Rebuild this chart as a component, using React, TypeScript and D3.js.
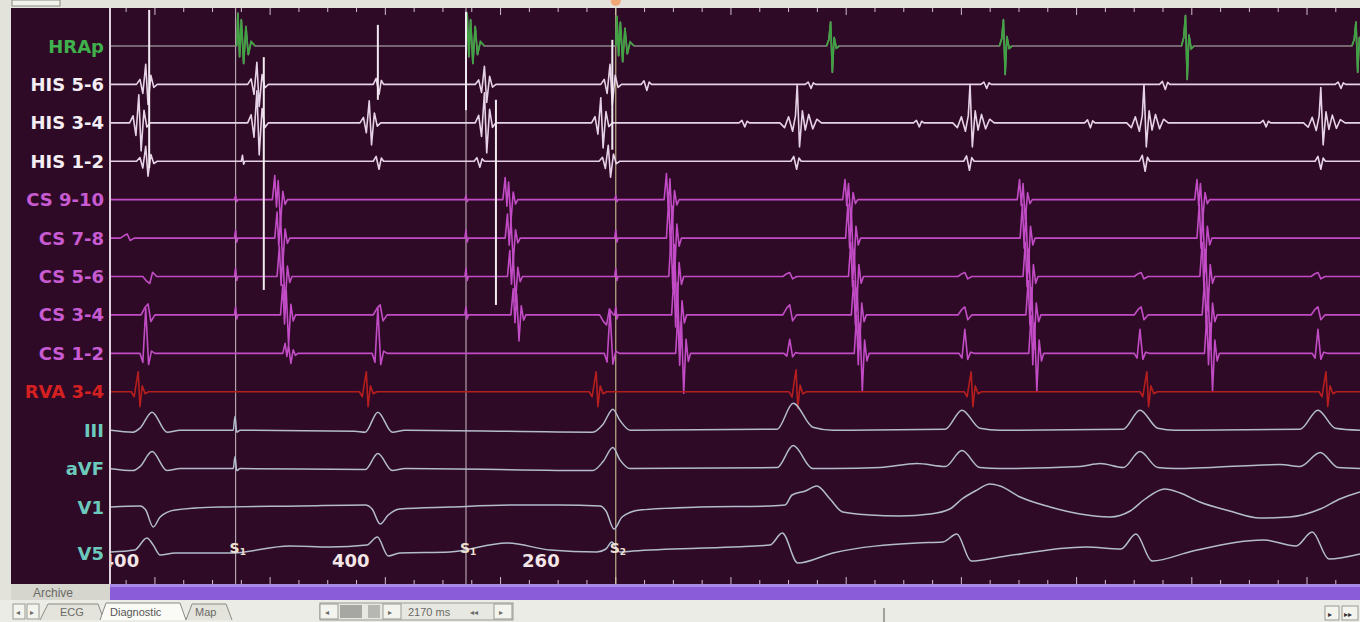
import React, { useMemo } from "react";
import * as d3 from "d3";

const W = 1360;
const H = 622;
const SWEEP_MS = 2170;

// ---------- channels ----------
const channelNames = ["HRAp", "HIS 5-6", "HIS 3-4", "HIS 1-2", "CS 9-10", "CS 7-8", "CS 5-6", "CS 3-4", "CS 1-2", "RVA 3-4", "III", "aVF", "V1", "V5"];
const channelGroups = ["hra", "his", "his", "his", "cs", "cs", "cs", "cs", "cs", "rva", "ecg", "ecg", "ecg", "ecg"];

// ---------- waveform templates: [dt ms, relative amplitude] ----------
const templates: Record<string, [number, number][]> = {
  stim: [[-2, 0], [0, 1], [2, -0.5], [4, 0]],
  his: [[-16, 0], [-10, 0.25], [-5, -0.45], [0, 1], [4, -1], [9, 0.45], [14, -0.15], [20, 0]],
  bi: [[-8, 0], [-3, 0.6], [2, -1], [6, 0.4], [10, 0]],
  tachyHis: [[-30, 0], [-22, -0.2], [-15, 0.25], [-8, -0.35], [-3, 0.3], [0, 1.6], [4, -1], [9, 0.5], [14, -0.3], [20, 0.35], [27, -0.25], [34, 0.15], [42, 0]],
  cs: [[-10, 0], [-6, 1], [-3, -0.3], [0, 0.8], [4, -1], [8, 0.35], [12, -0.2], [16, 0]],
  up: [[-10, 0], [-5, -0.2], [0, 1], [5, -0.25], [10, 0.05], [16, 0]],
  rva: [[-10, 0], [-5, -0.25], [-1, 0.5], [2, 1], [5, -0.75], [9, 0.3], [14, -0.1], [20, 0]],
  hra: [[-2, 0], [0, 1.5], [3, -0.5], [6, 1.2], [10, -0.8], [14, 0.9], [18, -0.4], [23, 0.2], [30, 0]],
  hraLocal: [[-6, 0], [-2, 0.3], [1, 1.1], [4, -1.2], [7, 0.4], [11, -0.1], [16, 0]],
  bump: [[-12, 0], [-5, 0.7], [0, 1], [5, -0.6], [12, 0]],
};

// ---------- intracardiac events: [time ms, template, amplitude] ----------
type Ev = [number, string, number];
const hrapEvents: Ev[] = [[222, "hra", 22], [620, "hra", 22], [880, "hra", 20], [1250, "hraLocal", 22], [1550, "hraLocal", 24], [1866, "hraLocal", 28], [2162, "hraLocal", 22]];
const his56Events: Ev[] = [[62, "his", 20], [255, "his", 22], [465, "bi", 10], [650, "his", 18], [868, "his", 20], [930, "bi", 6], [1215, "bi", 4], [1520, "bi", 4], [1830, "bi", 5], [2135, "bi", 4]];
const his34Events: Ev[] = [[50, "his", 28], [255, "his", 32], [450, "his", 22], [650, "his", 30], [852, "his", 25], [1100, "bi", 4], [1193, "tachyHis", 24], [1403, "bi", 4], [1493, "tachyHis", 24], [1700, "bi", 5], [1795, "tachyHis", 24], [2005, "bi", 4], [2102, "tachyHis", 22]];
const his12Events: Ev[] = [[62, "his", 15], [230, "stim", 6], [465, "bi", 8], [640, "bi", 6], [865, "his", 16], [1190, "bi", 8], [1490, "bi", 9], [1795, "bi", 10], [2100, "bi", 8]];
const cs910Events: Ev[] = [[218, "stim", 4], [292, "cs", 24], [618, "stim", 4], [692, "cs", 22], [878, "stim", 4], [972, "cs", 26], [1282, "cs", 20], [1585, "cs", 20], [1893, "cs", 20]];
const cs78Events: Ev[] = [[30, "bump", 4], [218, "stim", 8], [296, "cs", 26], [618, "stim", 8], [696, "cs", 24], [878, "stim", 8], [976, "cs", 40], [1287, "cs", 34], [1590, "cs", 34], [1897, "cs", 34]];
const cs56Events: Ev[] = [[69, "bump", -7], [218, "stim", 8], [300, "cs", 30], [618, "stim", 8], [700, "cs", 26], [878, "stim", 8], [980, "cs", 40], [1180, "bump", 4], [1292, "cs", 34], [1484, "bump", 4], [1595, "cs", 34], [1790, "bump", 4], [1902, "cs", 34], [2097, "bump", 4]];
const cs34Events: Ev[] = [[66, "bump", 11], [218, "stim", 8], [306, "cs", 30], [469, "bump", 10], [618, "stim", 8], [706, "cs", 26], [862, "bump", -10], [878, "stim", 8], [985, "cs", 40], [1180, "bump", 10], [1297, "cs", 34], [1484, "bump", 8], [1600, "cs", 34], [1790, "bump", 8], [1906, "cs", 34], [2097, "bump", 8]];
const cs12Events: Ev[] = [[62, "up", 45], [310, "cs", 10], [465, "up", 45], [868, "up", 43], [992, "cs", 40], [1180, "up", 14], [1302, "cs", 38], [1484, "up", 24], [1605, "cs", 38], [1788, "up", 24], [1910, "cs", 38], [2097, "up", 24]];
const rvaEvents: Ev[] = [[47, "rva", 20], [443, "rva", 20], [842, "rva", 20], [1189, "rva", 22], [1493, "rva", 20], [1798, "rva", 20], [2109, "rva", 20]];

// ---------- surface ECG: [time ms, amplitude] ----------
const leadIII: [number, number][] = [[0, 0], [40, -2], [52, 2], [73, 18], [99, -2], [122, 0], [214, 0], [217, 14], [220, -2], [226, 0], [425, -1], [443, -2], [465, 18], [490, -2], [512, 0], [838, -2], [856, 6], [873, 21], [885, 10], [903, 0], [1158, 1], [1186, 27], [1220, 3], [1255, 0], [1450, 1], [1479, 20], [1510, 2], [1545, 0], [1759, 1], [1788, 20], [1819, 2], [1849, 0], [2066, 1], [2097, 20], [2127, 2], [2170, 0]];
const leadAVF: [number, number][] = [[0, 0], [40, -2], [52, 2], [73, 17], [99, -2], [122, 0], [214, 0], [217, 12], [220, -2], [226, 0], [443, -1], [465, 15], [490, -2], [512, 0], [838, -2], [856, 7], [873, 21], [885, 9], [903, 0], [1158, 1], [1186, 23], [1220, 0], [1255, 0], [1337, 1], [1401, 5], [1450, 2], [1479, 18], [1510, 1], [1545, 0], [1684, 2], [1719, 5], [1759, 1], [1788, 17], [1819, 1], [1849, 0], [2031, 4], [2066, 2], [2101, 16], [2132, 1], [2170, 0]];
const leadV1: [number, number][] = [[0, 0], [52, 1], [62, -3], [75, -20], [87, -10], [113, -3], [191, 0], [330, 1], [443, 2], [455, -2], [469, -17], [483, -8], [503, -2], [590, 0], [712, 2], [781, 2], [851, 1], [861, -4], [875, -22], [889, -10], [920, -3], [1024, 0], [1146, 1], [1172, 2], [1184, 12], [1207, 16], [1227, 21], [1250, 8], [1272, -5], [1319, -8], [1371, -9], [1424, -7], [1458, -2], [1479, 8], [1502, 16], [1528, 23], [1545, 21], [1580, 10], [1632, 0], [1684, -7], [1736, -10], [1771, -4], [1797, 8], [1831, 18], [1858, 14], [1892, 5], [1944, -4], [1996, -11], [2048, -10], [2101, -2], [2135, 8], [2170, 15]];
const leadV5: [number, number][] = [[0, 1], [43, 3], [64, 15], [75, 8], [87, -2], [113, 0], [208, 0], [312, 7], [382, 6], [446, 8], [464, 16], [483, -3], [503, 0], [590, 1], [689, 10], [764, 3], [845, 1], [861, 4], [871, 11], [885, 1], [908, 2], [1082, 6], [1146, 8], [1167, 20], [1194, -10], [1255, 0], [1401, 10], [1446, 11], [1470, 19], [1495, -8], [1545, -4], [1694, 6], [1755, 4], [1781, 19], [1809, -8], [1880, 2], [2003, 13], [2059, 7], [2087, 21], [2116, -6], [2170, -1]];

// ---------- stimulation marks ----------
const stimTimes = [-182, 218, 618, 878];
const stimNames = ["1", "1", "1", "2"];
const intervalLabels = ["400", "400", "260"];
// bright artifact lines: [time ms, from channel, to channel]
const artifacts: [number, number, number][] = [[68, -0.94, 3.18], [267, 0.29, 6.35], [465, -0.55, 1.4], [618, -0.89, 1.67], [670, 1.4, 6.74], [872, -0.16, 2.7]];

const egmEvents: (Ev[] | null)[] = [hrapEvents, his56Events, his34Events, his12Events, cs910Events, cs78Events, cs56Events, cs34Events, cs12Events, rvaEvents, null, null, null, null];
const ecgData: ([number, number][] | null)[] = [null, null, null, null, null, null, null, null, null, null, leadIII, leadAVF, leadV1, leadV5];

const BG = "#2f0a26";
const strokeByGroup: Record<string, string> = { hra: "#8c8488", his: "#e6d2e6", cs: "#c24cc6", rva: "#b41e1e", ecg: "#b2bccd" };
const labelByGroup: Record<string, string> = { hra: "#40b04c", his: "#f4eef4", cs: "#c85ad2", rva: "#d42020", ecg: "#6cc9bd" };

function evalEvent(e: Ev, t: number) {
  const tpl = templates[e[1]];
  const rel = t - e[0];
  if (rel <= tpl[0][0] || rel >= tpl[tpl.length - 1][0]) return 0;
  for (let i = 1; i < tpl.length; i++) {
    if (rel <= tpl[i][0]) {
      const [t0, v0] = tpl[i - 1];
      const [t1, v1] = tpl[i];
      return (v0 + ((v1 - v0) * (rel - t0)) / (t1 - t0)) * e[2];
    }
  }
  return 0;
}

function egmPoints(events: Ev[]): [number, number][] {
  const ts = new Set<number>([0, SWEEP_MS]);
  events.forEach((e) => templates[e[1]].forEach(([dt]) => ts.add(e[0] + dt)));
  return Array.from(ts)
    .sort((a, b) => a - b)
    .map((t) => [t, events.reduce((s, e) => s + evalEvent(e, t), 0)] as [number, number]);
}

export default function App() {
  const x = d3.scaleLinear().domain([0, SWEEP_MS]).range([110, 1360]);
  const yCh = d3.scaleLinear().domain([0, 12, 13]).range([46, 507, 553]);
  const gain = d3.scaleLinear().domain([0, 1]).range([0, -1]);
  const plotTop = 8;
  const plotBottom = 584;

  const traces = useMemo(() => {
    return channelNames.map((name, i) => {
      const grp = channelGroups[i];
      const pts = egmEvents[i] ? egmPoints(egmEvents[i]!) : ecgData[i]!;
      const line = d3
        .line<[number, number]>()
        .x((d) => x(d[0]))
        .y((d) => yCh(i) + gain(d[1]))
        .curve(grp === "ecg" ? d3.curveMonotoneX : d3.curveLinear);
      return { name, grp, d: line(pts) || "", i };
    });
  }, []);

  const greenPaths = useMemo(() => {
    const line = d3
      .line<[number, number]>()
      .x((d) => x(d[0]))
      .y((d) => yCh(0) + gain(d[1]));
    return hrapEvents.map((e) => line(templates[e[1]].map(([dt, v]) => [e[0] + dt, v * e[2]] as [number, number])) || "");
  }, []);

  const ticks = d3.range(28, SWEEP_MS, 50);

  return (
    <svg width={W} height={H} style={{ display: "block", position: "absolute", left: 0, top: 0 }} fontFamily="'DejaVu Sans', sans-serif">
      <defs>
        <clipPath id="plot">
          <rect x={111} y={plotTop} width={1360 - 111} height={plotBottom - plotTop} />
        </clipPath>
      </defs>
      {/* chrome */}
      <rect x={0} y={0} width={W} height={H} fill="#e3e3db" />
      <rect x={11} y={plotTop} width={W - 11} height={plotBottom - plotTop} fill={BG} />
      <rect x={12} y={0} width={48} height={6} fill="#f2f2ec" stroke="#8a8a84" strokeWidth={1} />
      <line x1={110} x2={110} y1={plotTop} y2={plotBottom} stroke="#ddd2dc" strokeWidth={2} />

      {/* labels */}
      {channelNames.map((n, i) => (
        <text key={n} x={104} y={yCh(i) + 6.5} textAnchor="end" fontSize={18} fontWeight="bold" fill={labelByGroup[channelGroups[i]]}>
          {n}
        </text>
      ))}

      <g clipPath="url(#plot)">
        {/* ticks */}
        {ticks.map((t) => (
          <g key={t}>
            <line x1={x(t)} x2={x(t)} y1={plotTop} y2={plotTop + ((t - 878) % 200 === 0 ? 7 : 4)} stroke="#cdbccb" strokeWidth={1} />
            <line x1={x(t)} x2={x(t)} y1={plotBottom - ((t - 878) % 200 === 0 ? 7 : 4)} y2={plotBottom} stroke="#cdbccb" strokeWidth={1} />
          </g>
        ))}
        {/* stim lines */}
        {stimTimes.map((t, k) => (
          <line key={"s" + k} x1={x(t)} x2={x(t)} y1={plotTop} y2={plotBottom} stroke={stimNames[k] === "2" ? "#d6d29c" : "#cbbcc6"} strokeWidth={1.2} opacity={0.85} />
        ))}
        {/* traces */}
        {traces.map((tr) => (
          <path key={tr.name} d={tr.d} fill="none" stroke={strokeByGroup[tr.grp]} strokeWidth={tr.grp === "ecg" ? 1.5 : 1.6} strokeLinejoin="round" />
        ))}
        {greenPaths.map((d, k) => (
          <path key={"g" + k} d={d} fill="none" stroke="#3fa342" strokeWidth={1.7} />
        ))}
        {/* bright artifacts */}
        {artifacts.map(([t, a, b], k) => (
          <line key={"a" + k} x1={x(t)} x2={x(t)} y1={yCh(a)} y2={yCh(b)} stroke="#f2eaf2" strokeWidth={2} />
        ))}
        {/* interval labels */}
        {intervalLabels.map((lab, k) => (
          <text key={"i" + k} x={x((stimTimes[k] + stimTimes[k + 1]) / 2)} y={567} textAnchor="middle" fontSize={18} fontWeight="bold" fill="#f4e6e6">
            {lab}
          </text>
        ))}
        {stimTimes.map((t, k) => (
          <text key={"n" + k} x={x(t) - 6} y={553} fontSize={14} fontWeight="bold" fill="#ece0d2">
            S<tspan fontSize={9} dy={2}>{stimNames[k]}</tspan>
          </text>
        ))}
      </g>
      {/* S2 marker at top */}
      <circle cx={x(stimTimes[3])} cy={1} r={5} fill="#f0a878" />

      {/* bottom bars */}
      <rect x={11} y={plotBottom} width={99} height={17} fill="#d6d6ce" />
      <text x={33} y={597} fontSize={12} fill="#6a6a66" fontFamily="'Liberation Sans', Arial, sans-serif">Archive</text>
      <rect x={110} y={plotBottom} width={W - 110} height={16} fill="#8b5cd9" />
      <rect x={110} y={plotBottom} width={W - 110} height={3} fill="#a98ae6" />
      <rect x={0} y={600} width={W} height={22} fill="#ecece6" />
      <g fontFamily="'Liberation Sans', Arial, sans-serif" fontSize={11} fill="#6a6a66">
        <rect x={13} y={604} width={12} height={15} fill="#f4f4ee" stroke="#9a9a94" />
        <text x={16} y={615} fontSize={8}>◂</text>
        <rect x={27} y={604} width={12} height={15} fill="#f4f4ee" stroke="#9a9a94" />
        <text x={30} y={615} fontSize={8}>▸</text>
        <path d="M40,620 L48,604 L98,604 L104,620" fill="#e4e4dc" stroke="#8a8a84" />
        <text x={60} y={616}>ECG</text>
        <path d="M100,620 L106,603 L180,603 L186,620" fill="#fafaf6" stroke="#8a8a84" />
        <text x={110} y={616} fill="#555">Diagnostic</text>
        <path d="M186,620 L192,604 L226,604 L232,620" fill="#e4e4dc" stroke="#8a8a84" />
        <text x={195} y={616}>Map</text>
        <rect x={320} y={603} width={193} height={17} fill="#e8e8e2" stroke="#9a9a94" />
        <rect x={320} y={604} width={18} height={15} fill="#f4f4ee" stroke="#9a9a94" />
        <text x={325} y={615} fontSize={8}>◂</text>
        <rect x={340} y={605} width={22} height={13} fill="#a6a6a2" />
        <rect x={368} y={605} width={12} height={13} fill="#b6b6b2" />
        <rect x={383} y={604} width={18} height={15} fill="#f4f4ee" stroke="#9a9a94" />
        <text x={388} y={615} fontSize={8}>▸</text>
        <text x={408} y={616}>2170 ms</text>
        <text x={470} y={615} fontSize={8}>◂◂</text>
        <rect x={494} y={604} width={18} height={15} fill="#f4f4ee" stroke="#9a9a94" />
        <text x={499} y={615} fontSize={8}>▸</text>
        <line x1={884} x2={884} y1={608} y2={622} stroke="#555" />
        <rect x={1325} y={606} width={14} height={14} fill="#f4f4ee" stroke="#9a9a94" />
        <text x={1328} y={617} fontSize={8} fill="#333">▸</text>
        <rect x={1342} y={606} width={16} height={14} fill="#f4f4ee" stroke="#9a9a94" />
        <text x={1344} y={617} fontSize={8} fill="#333">▸▸</text>
      </g>
    </svg>
  );
}
